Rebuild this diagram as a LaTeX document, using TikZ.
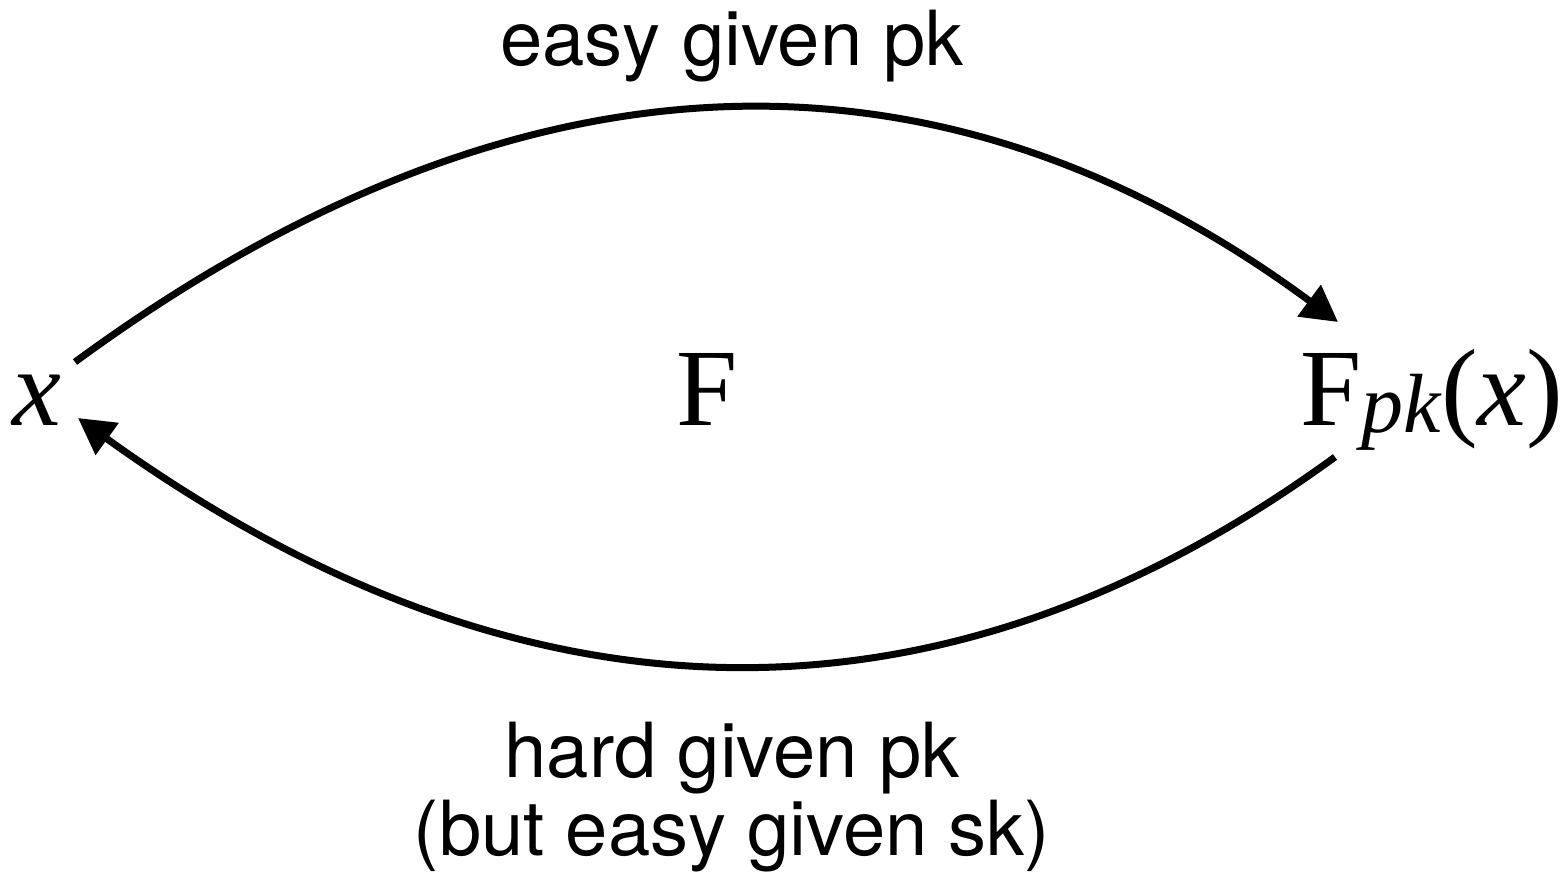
\documentclass[tikz,border=0pt]{standalone}
\usepackage{fontspec}
\setmainfont{TeX Gyre Heros}
\newfontfamily\tms{Liberation Serif}
\usetikzlibrary{arrows.meta}
\begin{document}
\begin{tikzpicture}[x=0.5pt,y=-0.5pt,
  lbl/.style={font=\fontsize{38}{42}\selectfont, inner sep=0pt, anchor=base},
  sym/.style={font=\tms\fontsize{55}{60}\selectfont, inner sep=0pt, anchor=base},
  arc/.style={line width=3.5pt, -{Triangle[length=18pt,width=19pt]}}]
\useasboundingbox (0,0) rectangle (1562,879);
\node[lbl] (easy) at (732,65) {easy given pk};
\node[lbl] (hard) at (732,777) {hard given pk};
\node[lbl] (but) at (732,855) {(but easy given sk)};
\node[sym] (xn) at (37,425) {\itshape x};
\node[sym] (F) at (707,425) {F};
\node[sym] (Fpk) at (1432,425) {F\raisebox{-3.5pt}{\fontsize{42}{42}\selectfont\itshape pk}(\textit{x})};
\coordinate (a0) at (75,362);
\coordinate (a1) at (1338,322);
\coordinate (b0) at (1335,457);
\coordinate (b1) at (78,418);
\draw[arc] (a0) .. controls (516.7,38) and (937.7,26) .. (a1);
\draw[arc] (b0) .. controls (936.7,747.3) and (517.7,734.3) .. (b1);
\end{tikzpicture}
\end{document}
